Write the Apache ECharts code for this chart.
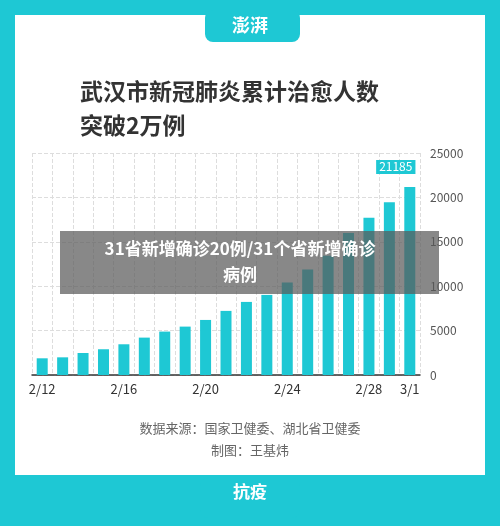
<!DOCTYPE html><html><head><meta charset="utf-8">
<script src="https://cdn.jsdelivr.net/npm/echarts@6/dist/echarts.min.js"></script>
<style>html,body{margin:0;padding:0;background:#fff}#c{width:500px;height:526px}</style></head><body><div id="c"></div>
<script>
const categories=['2/12','2/13','2/14','2/15','2/16','2/17','2/18','2/19','2/20','2/21','2/22','2/23','2/24','2/25','2/26','2/27','2/28','2/29','3/1'];
const values=[1880,1990,2480,2900,3460,4210,4890,5450,6200,7220,8230,9020,10410,11880,13420,15980,17710,19440,21185];
const shownLabels=['2/12','2/16','2/20','2/24','2/28','3/1'];
const yTicks=[0,5000,10000,15000,20000,25000];
const teal='#1ec8d4';
const F='"Noto Sans CJK SC","Noto Sans",sans-serif';
const chart=echarts.init(document.getElementById('c'));
chart.setOption({
 animation:false,
 grid:{left:32,right:80,top:153,bottom:151},
 xAxis:{type:'category',data:categories,boundaryGap:true,
  axisLine:{lineStyle:{color:'#333',width:1.5}},axisTick:{show:false},
  axisLabel:{interval:0,color:'#333',fontSize:13,fontFamily:F,margin:8,
   formatter:v=>shownLabels.includes(v)?v:''},
  splitLine:{show:true,interval:0,lineStyle:{color:'#ddd',type:'dashed'}}},
 yAxis:{type:'value',position:'right',min:0,max:25000,interval:5000,
  axisLine:{show:false},axisTick:{show:false},
  axisLabel:{color:'#555',fontSize:12,fontFamily:F,margin:10,formatter:v=>yTicks.includes(v)?String(v):''},
  splitLine:{lineStyle:{color:'#ddd',type:'dashed'}}},
 series:[{type:'bar',data:values.map((v,i)=>i===values.length-1?{value:v,label:{show:true,position:'top',offset:[-14,-8],
   backgroundColor:teal,color:'#fff',fontSize:12,padding:[1,3],fontFamily:F}}:v),
  barWidth:11,itemStyle:{color:teal}}],
 graphic:[
  {type:'rect',z:-10,shape:{x:0,y:0,width:500,height:526},style:{fill:teal}},
  {type:'rect',z:-9,shape:{x:15,y:15,width:470,height:460},style:{fill:'#fff'}},
  {type:'rect',z:-8,shape:{x:205,y:10,width:95,height:32,r:8},style:{fill:teal}},
  {type:'text',left:'center',top:16,style:{text:'澎湃',fill:'#fff',font:'bold 18px '+F}},
  {type:'text',left:80,top:74,style:{text:'武汉市新冠肺炎累计治愈人数\n突破2万例',fill:'#333',font:'bold 23px '+F,lineHeight:34}},
  {type:'text',left:'center',top:422,style:{text:'数据来源：国家卫健委、湖北省卫健委',fill:'#666',font:'13px '+F}},
  {type:'text',left:'center',top:444,style:{text:'制图：王基炜',fill:'#666',font:'13px '+F}},
  {type:'rect',z:-8,shape:{x:200,y:478,width:100,height:40,r:8},style:{fill:teal}},
  {type:'text',left:'center',top:483,style:{text:'抗疫',fill:'#fff',font:'bold 17px '+F}},
  {type:'rect',z:100,shape:{x:60,y:231,width:379,height:63},style:{fill:'rgba(90,90,90,0.72)'}},
  {type:'text',z:101,x:240,y:236,style:{text:'31省新增确诊20例/31个省新增确诊\n病例',fill:'#fff',font:'bold 17px '+F,align:'center',lineHeight:26}}
 ]
});
</script></body></html>
